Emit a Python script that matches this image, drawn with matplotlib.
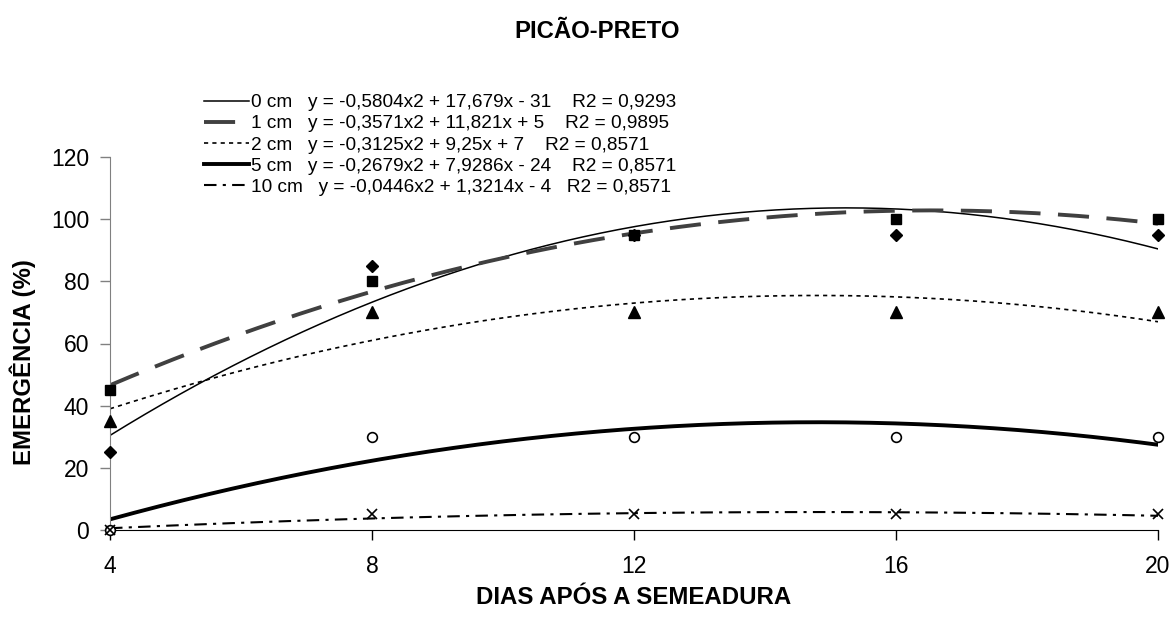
import numpy as np
import matplotlib
matplotlib.use("Agg")
import matplotlib.pyplot as plt

plt.rcParams['font.family'] = ['Liberation Sans', 'DejaVu Sans']

days = [4, 8, 12, 16, 20]
emerg_0cm = [25, 85, 95, 95, 95]
emerg_1cm = [45, 80, 95, 100, 100]
emerg_2cm = [35, 70, 70, 70, 70]
emerg_5cm = [0, 30, 30, 30, 30]
emerg_10cm = [0, 5, 5, 5, 5]

legend_labels = [
    "0 cm   y = -0,5804x2 + 17,679x - 31    R2 = 0,9293",
    "1 cm   y = -0,3571x2 + 11,821x + 5    R2 = 0,9895",
    "2 cm   y = -0,3125x2 + 9,25x + 7    R2 = 0,8571",
    "5 cm   y = -0,2679x2 + 7,9286x - 24    R2 = 0,8571",
    "10 cm   y = -0,0446x2 + 1,3214x - 4   R2 = 0,8571",
]

title = "PICÃO-PRETO"
xlabel = "DIAS APÓS A SEMEADURA"
ylabel = "EMERGÊNCIA (%)"
xticks = [4, 8, 12, 16, 20]
yticks = [0, 20, 40, 60, 80, 100, 120]

W, H = 1175, 618
fig = plt.figure(figsize=(W / 100, H / 100), dpi=100)
ax = fig.add_axes([110 / W, 1 - 530 / H, (1158 - 110) / W, (530 - 157) / H])

series = [emerg_0cm, emerg_1cm, emerg_2cm, emerg_5cm, emerg_10cm]
line_styles = [
    dict(color='black', lw=1.1, ls='-'),
    dict(color='#404040', lw=2.8, ls=(0, (8, 4.5))),
    dict(color='black', lw=1.2, ls=(0, (2.5, 2.5))),
    dict(color='black', lw=2.8, ls='-'),
    dict(color='black', lw=1.5, ls=(0, (6, 3, 1.5, 3))),
]
marker_styles = [
    dict(marker='D', ms=6, mfc='black', mec='black'),
    dict(marker='s', ms=7.5, mfc='black', mec='black'),
    dict(marker='^', ms=8, mfc='black', mec='black'),
    dict(marker='o', ms=7, mfc='white', mec='black', mew=1.2),
    dict(marker='x', ms=7, mfc='black', mec='black', mew=1.2),
]

xs = np.linspace(days[0], days[-1], 300)
handles = []
for y, lst, mst, lab in zip(series, line_styles, marker_styles, legend_labels):
    coef = np.polyfit(days, y, 2)
    h, = ax.plot(xs, np.polyval(coef, xs), label=lab, zorder=2, **lst)
    handles.append(h)
    ax.plot(days, y, ls='none', clip_on=False, zorder=3, **mst)

ax.set_xlim(4, 20)
ax.set_ylim(0, 120)
ax.set_xticks(xticks)
ax.set_yticks(yticks)
ax.tick_params(axis='both', labelsize=16.5, direction='out', length=7, width=1, color='black')
ax.tick_params(axis='y', pad=8, color='#808080')
ax.tick_params(axis='x', pad=11)
for s in ['top', 'right']:
    ax.spines[s].set_visible(False)
ax.spines['left'].set_color('#808080')
ax.spines['bottom'].set_color('black')

ax.set_xlabel(xlabel, fontsize=17.3, fontweight='bold', labelpad=6)
ax.set_ylabel(ylabel, fontsize=17.3, fontweight='bold')
ax.yaxis.set_label_coords((36 - 110) / 1048, (530 - 362) / 373)

fig.text(597 / W, 1 - 31 / H, title, ha='center', va='center', fontsize=17.2, fontweight='bold')

leg = fig.legend(handles=handles, loc='upper left', bbox_to_anchor=(204 / W, 1 - 94 / H),
                 frameon=False, fontsize=13.7, handlelength=2.35, handletextpad=0.12,
                 labelspacing=0.2, borderpad=0, borderaxespad=0)

fig.savefig("out.png", dpi=100)
